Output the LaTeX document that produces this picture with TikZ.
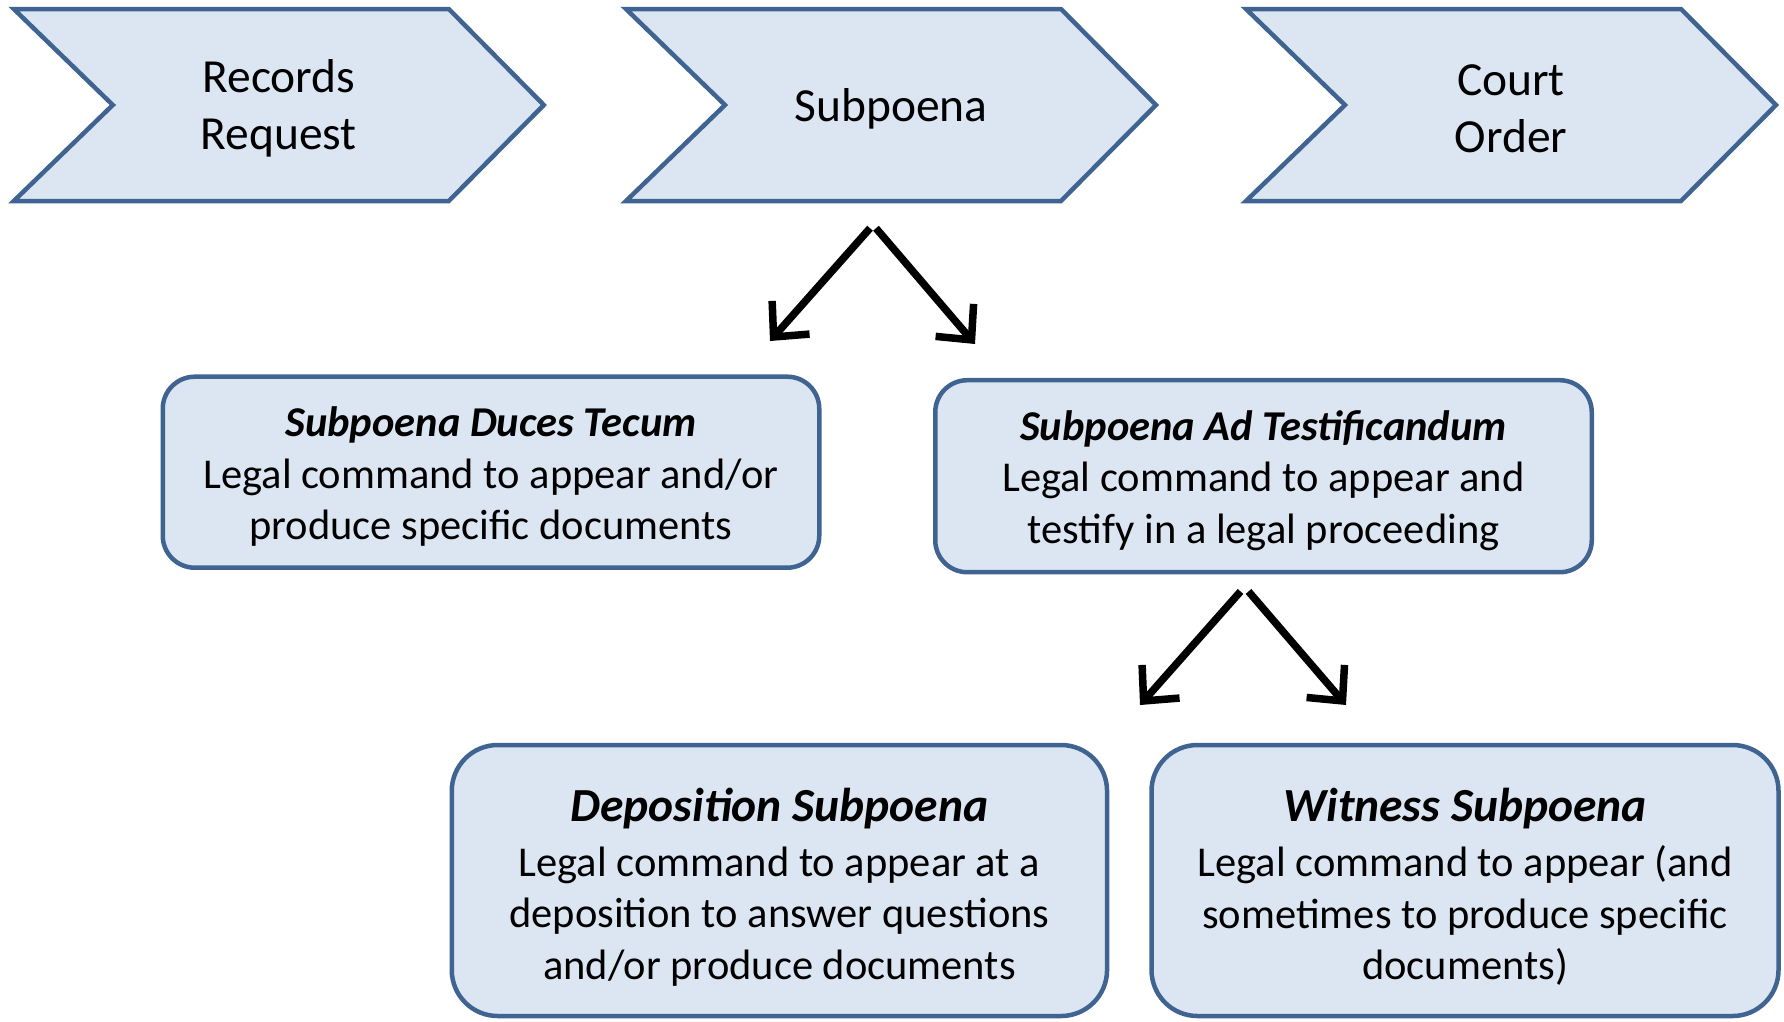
\documentclass[tikz,border=0pt]{standalone}
\usepackage{fontspec}
\setmainfont{Carlito}
\usetikzlibrary{arrows.meta,calc}
\definecolor{bordc}{RGB}{64,100,146}
\definecolor{fillc}{RGB}{220,230,242}
\newcommand\mychev[3]{%
  \filldraw[chevline] (#2-265,9) -- (#2+170,9) -- (#2+265,105) -- (#2+170,201) -- (#2-265,201) -- (#2-166,105) -- cycle;
  \node[chevtext] (#1) at (#2,108.5) {#3};}
\begin{document}
\begin{tikzpicture}[x=1pt,y=-1pt,
  chevline/.style={draw=bordc, fill=fillc, line width=4.5pt, line join=miter},
  chevtext/.style={minimum width=530pt, minimum height=192pt, inner sep=0pt, align=center, font=\fontsize{47.5}{57}\selectfont},
  box/.style={draw=bordc, fill=fillc, line width=4.5pt, rounded corners=#1, inner sep=0pt},
  boxtext/.style={inner sep=0pt, align=center, font=\fontsize{42.5}{51.5}\selectfont},
  arr/.style={line width=7.5pt, -{Straight Barb[length=26pt,width=50pt]}}]
\useasboundingbox (0,0) rectangle (1784,1021);
\mychev{rr}{278.8}{Records\\Request}
\mychev{sub}{891}{Subpoena}
\mychev{co}{1511}{Court\\Order}

\node[box=32pt, minimum width=656.5pt, minimum height=191pt] (sdt) at (491,472.2) {};
\node[boxtext] (sdtt) at ($(sdt.center)+(0,4.5)$)
  {{\bfseries\itshape Subpoena Duces Tecum}\\Legal command to appear and/or\\produce specific documents};
\node[box=32pt, minimum width=656.5pt, minimum height=192pt] (sat) at (1263.5,476.2) {};
\node[boxtext] (satt) at ($(sat.center)+(0,4.5)$)
  {{\bfseries\itshape Subpoena Ad Testificandum}\\Legal command to appear and\\testify in a legal proceeding};
\node[box=46pt, minimum width=655.3pt, minimum height=271pt] (dep) at (779.4,880.5) {};
\node[boxtext] (dept) at ($(dep.center)+(0,6.3)$)
  {{\fontsize{47.5}{55}\selectfont\bfseries\itshape Deposition Subpoena}\\[3.5pt]Legal command to appear at a\\deposition to answer questions\\and/or produce documents};
\node[box=46pt, minimum width=627pt, minimum height=271pt] (wit) at (1465,880.5) {};
\node[boxtext] (witt) at ($(wit.center)+(0,6.3)$)
  {{\fontsize{47.5}{55}\selectfont\bfseries\itshape Witness Subpoena}\\[3.5pt]Legal command to appear (and\\sometimes to produce specific\\documents)};

\coordinate (t1) at (770,341);
\coordinate (t2) at (975,344);
\coordinate (t3) at (1140,705);
\coordinate (t4) at (1346,705);
\draw[arr] ($(sub.south)+(-21,23.5)$) -- (t1);
\draw[arr] ($(sub.south)+(-15,23.5)$) -- (t2);
\draw[arr] ($(sat.south)+(-23,17)$) -- (t3);
\draw[arr] ($(sat.south)+(-15,17)$) -- (t4);
\end{tikzpicture}
\end{document}
